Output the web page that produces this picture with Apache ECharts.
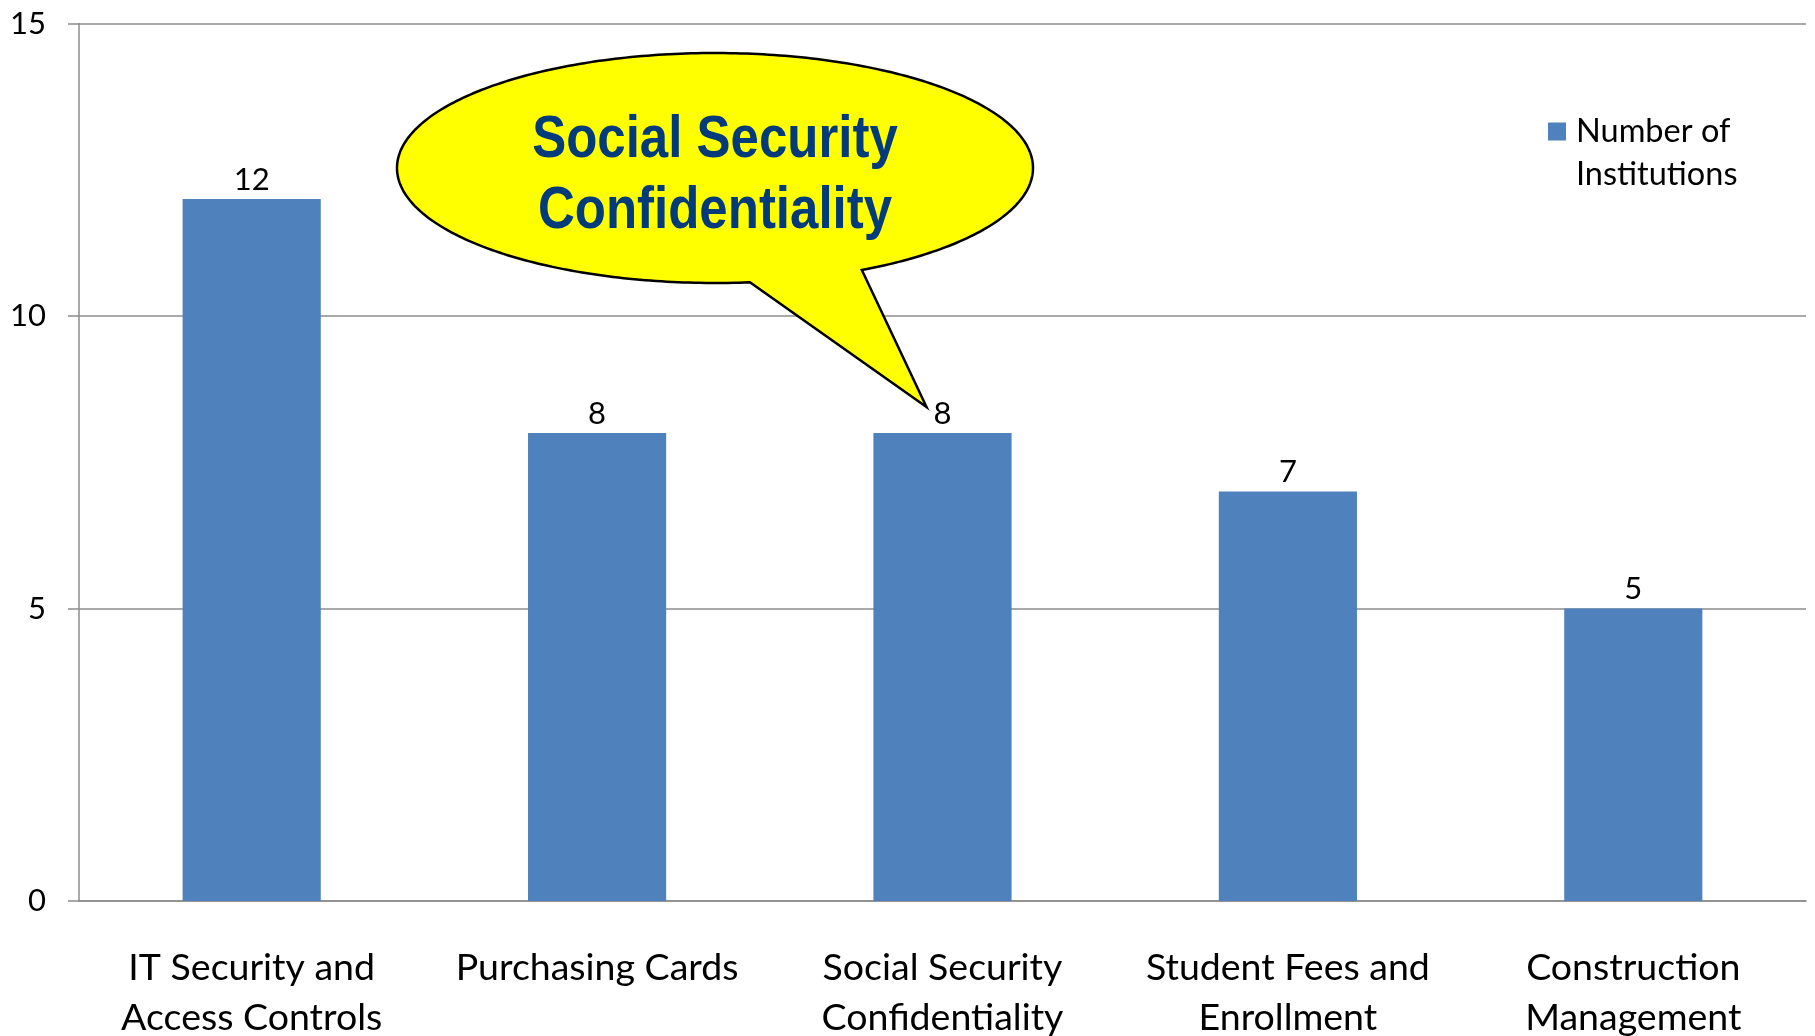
<!DOCTYPE html>
<html><head><meta charset="utf-8">
<script src="https://cdn.jsdelivr.net/npm/echarts@6/dist/echarts.min.js"></script>
<style>html,body{margin:0;padding:0;background:#fff}#c{width:1815px;height:1036px}</style>
</head><body><div id="c"></div>
<script>
const categories = ['IT Security and\nAccess Controls', 'Purchasing Cards', 'Social Security\nConfidentiality', 'Student Fees and\nEnrollment', 'Construction\nManagement'];
const institutions = [12, 8, 8, 7, 5];
const seriesName = 'Number of Institutions';
const legendLabel = 'Number of\nInstitutions';
const yMin = 0, yMax = 15, yInterval = 5;
const calloutLines = ['Social Security', 'Confidentiality'];
const calloutIndex = 2;

const FONT = 'Lato, "Open Sans", sans-serif';
const axisColor = '#8c8c8c';
const chart = echarts.init(document.getElementById('c'), null, {renderer: 'canvas'});
chart.setOption({
  animation: false,
  backgroundColor: '#fff',
  grid: {left: 79, right: 9, top: 23.5, bottom: 135, containLabel: false, outerBoundsMode: 'none'},
  legend: {
    show: true, left: 1548, top: 67, padding: 0, itemWidth: 18, itemHeight: 18, icon: 'rect',
    // leading empty line keeps the first text line level with the legend square
    formatter: () => '\u00a0\n' + legendLabel,
    textStyle: {fontSize: 32.5, lineHeight: 43, fontFamily: FONT, color: '#000', padding: [0, 0, 0, 5]}
  },
  xAxis: {
    type: 'category', data: categories,
    axisLine: {lineStyle: {color: axisColor, width: 1.5}},
    axisTick: {length: 13, lineStyle: {color: axisColor, width: 1.5}},
    axisLabel: {margin: 42, fontSize: 37.5, lineHeight: 50, color: '#000', fontFamily: FONT, interval: 0}
  },
  yAxis: {
    type: 'value', min: yMin, max: yMax, interval: yInterval,
    axisLine: {show: true, lineStyle: {color: axisColor, width: 1.5}},
    axisTick: {show: true, length: 11, lineStyle: {color: axisColor, width: 1.5}},
    splitLine: {lineStyle: {color: axisColor, width: 1.5}},
    axisLabel: {margin: 33, fontSize: 31, color: '#000', fontFamily: FONT}
  },
  series: [{
    type: 'bar', name: seriesName, data: institutions, barWidth: '40%',
    itemStyle: {color: '#4f81bd'},
    label: {show: true, position: 'top', distance: 4, fontSize: 31, color: '#000', fontFamily: FONT}
  }]
});

// speech-bubble callout pointing at the highlighted bar
const base = chart.convertToPixel({seriesIndex: 0}, [calloutIndex, institutions[calloutIndex]]);
const tip = [base[0] - 16, base[1] - 26];
const cx = 715, cy = 168, rx = 318, ry = 115;
const a0 = 83.7, a1 = 62.5 + 360;
const pts = [];
for (let a = a0; a <= a1 + 0.001; a += 1) {
  const t = a * Math.PI / 180;
  pts.push([cx + rx * Math.cos(t), cy + ry * Math.sin(t)]);
}
const tEnd = a1 * Math.PI / 180;
pts.push([cx + rx * Math.cos(tEnd), cy + ry * Math.sin(tEnd)]);
pts.push(tip);
chart.setOption({
  graphic: [
    {type: 'polygon', shape: {points: pts}, style: {fill: '#ffff00', stroke: '#000', lineWidth: 2.5, lineJoin: 'miter'}, z: 100},
    {type: 'text', x: cx, y: 176, scaleX: 0.85, z: 101,
     style: {text: calloutLines.join('\n'), fontFamily: '"Liberation Sans Narrow", "Liberation Sans", Arial, sans-serif', fontWeight: 'bold', fontSize: 60, lineHeight: 71, fill: '#023b7b', align: 'center', verticalAlign: 'middle'}}
  ]
});
</script>
</body></html>
